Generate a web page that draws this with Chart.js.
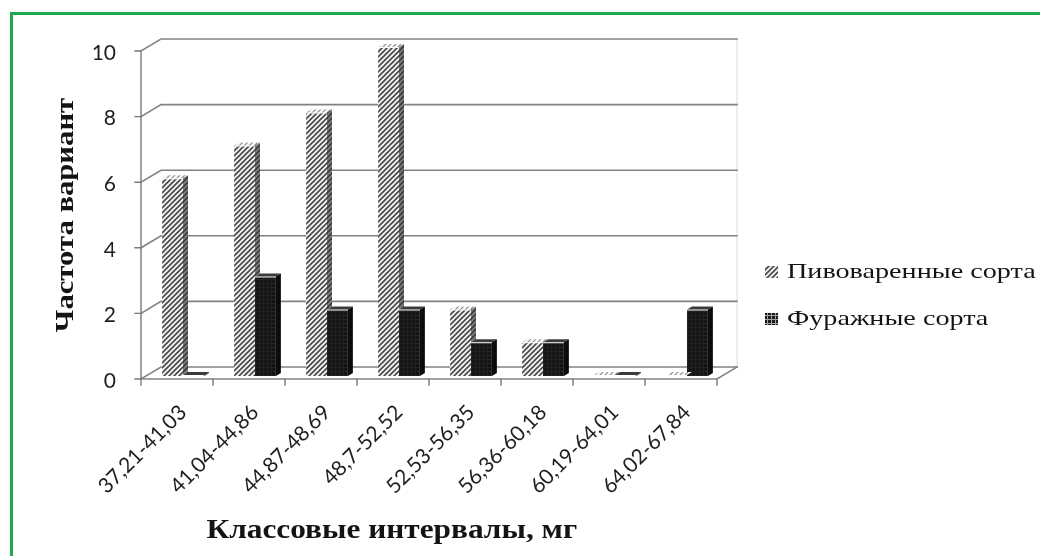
<!DOCTYPE html>
<html lang="ru">
<head>
<meta charset="utf-8">
<title>Частота вариант по классовым интервалам</title>
<script src="https://cdn.jsdelivr.net/npm/chart.js@4.4.1/dist/chart.umd.min.js"></script>
<style>
  html, body { margin: 0; padding: 0; background: #ffffff; overflow: hidden; }
  #wrap { position: relative; width: 1040px; height: 556px; }
  #frame { position: absolute; left: 10px; top: 12px; width: 1100px; height: 600px;
           border-left: 3px solid #20a84e; border-top: 3px solid #20a84e; }
  #c { position: absolute; left: 0; top: 0; }
</style>
</head>
<body>
<div id="wrap">
  <div id="frame"></div>
  <canvas id="c" width="1040" height="556"></canvas>
</div>
<script>
// Class intervals (mg) and counts per interval for each group of varieties
const categories = [
  '37,21-41,03', '41,04-44,86', '44,87-48,69', '48,7-52,52',
  '52,53-56,35', '56,36-60,18', '60,19-64,01', '64,02-67,84'
];
const brewingCounts = [6, 7, 8, 10, 2, 1, 0, 0];
const feedCounts = [0, 3, 2, 2, 1, 1, 0, 2];
const seriesNames = ['Пивоваренные сорта', 'Фуражные сорта'];
const yTickValues = [0, 2, 4, 6, 8, 10];
const xAxisTitle = 'Классовые интервалы, мг';
const yAxisTitle = 'Частота вариант';

// --- pseudo-3D geometry (pixels) ---
const WALL = { dx: 20, dy: -12 };     // front plane -> back wall
const BAR_PLANE = { dx: 6, dy: -3 };  // front plane -> bar front faces
const BAR_DEPTH = { dx: 5, dy: -3 };  // bar front face -> bar back

const canvas = document.getElementById('c');
const ctx = canvas.getContext('2d');

function tile(size, paint) {
  const t = document.createElement('canvas');
  t.width = t.height = size;
  paint(t.getContext('2d'), size);
  return ctx.createPattern(t, 'repeat');
}
function diagonal(bg, fg, width) {
  return tile(5, (g, s) => {
    g.fillStyle = bg; g.fillRect(0, 0, s, s);
    g.strokeStyle = fg; g.lineWidth = width;
    g.beginPath();
    g.moveTo(-1, s + 1); g.lineTo(s + 1, -1);
    g.moveTo(-1, 1); g.lineTo(1, -1);
    g.moveTo(s - 1, s + 1); g.lineTo(s + 1, s - 1);
    g.stroke();
  });
}
function grid(bg, fg) {
  return tile(4, (g, s) => {
    g.fillStyle = bg; g.fillRect(0, 0, s, s);
    g.fillStyle = fg; g.fillRect(3, 0, 1, s); g.fillRect(0, 3, s, 1);
  });
}

const hatchFront = diagonal('#f4f4f4', '#474747', 1.6);
const hatchSide = diagonal('#7c7c7c', '#333333', 1.5);
const hatchTop = diagonal('#fafafa', '#8a8a8a', 1.2);
const darkFront = grid('#141414', '#222222');
const darkSide = '#0b0b0b';
const darkTop = '#3a3a3a';
const darkLegend = grid('#1a1a1a', '#a0a0a0');

const faces = [
  { side: hatchSide, top: hatchTop, legend: hatchFront },
  { side: darkSide, top: darkTop, legend: darkLegend }
];

// back wall, side wall, floor and the front value axis
const frame3d = {
  id: 'frame3d',
  beforeDatasetsDraw(chart) {
    const { chartArea: a, scales: { y } } = chart;
    const c = chart.ctx;
    const fx0 = a.left - BAR_PLANE.dx, fx1 = a.right - BAR_PLANE.dx;
    const fy = v => y.getPixelForValue(v) - BAR_PLANE.dy;
    const y0 = fy(y.min);
    c.save();
    c.lineCap = 'square';
    // faint right edge of the back wall
    c.strokeStyle = '#dcdcdc'; c.lineWidth = 1;
    c.beginPath();
    c.moveTo(fx1 + WALL.dx, y0 + WALL.dy);
    c.lineTo(fx1 + WALL.dx, fy(y.max) + WALL.dy);
    c.stroke();
    // gridlines on the back wall with their diagonals on the side wall
    c.strokeStyle = '#828282'; c.lineWidth = 1.6;
    y.ticks.forEach(t => {
      const yy = fy(t.value);
      c.beginPath();
      c.moveTo(fx0, yy);
      c.lineTo(fx0 + WALL.dx, yy + WALL.dy);
      c.lineTo(fx1 + WALL.dx, yy + WALL.dy);
      c.stroke();
    });
    // floor outline
    c.beginPath();
    c.moveTo(fx0, y0); c.lineTo(fx1, y0); c.lineTo(fx1 + WALL.dx, y0 + WALL.dy);
    c.stroke();
    // front value axis and its tick marks
    c.strokeStyle = '#7a7a7a'; c.lineWidth = 1.4;
    c.beginPath();
    c.moveTo(fx0, fy(y.max)); c.lineTo(fx0, y0 + 5);
    y.ticks.forEach(t => { const yy = fy(t.value); c.moveTo(fx0 - 6, yy); c.lineTo(fx0, yy); });
    // category boundary ticks under the floor edge
    const n = chart.data.labels.length;
    for (let i = 0; i <= n; i++) {
      const bx = fx0 + (fx1 - fx0) * i / n;
      c.moveTo(bx, y0); c.lineTo(bx, y0 + 6);
    }
    c.stroke();
    c.restore();
  }
};

// right side and top faces of every bar, left bar of a group first;
// a side face stops where the neighbouring bar's front face begins
const bars3d = {
  id: 'bars3d',
  afterDatasetsDraw(chart) {
    const c = chart.ctx;
    const metas = chart.data.datasets.map((d, i) => chart.getDatasetMeta(i));
    const box = el => {
      const p = el.getProps(['x', 'y', 'base', 'width'], true);
      return { l: p.x - p.width / 2, r: p.x + p.width / 2,
               top: Math.min(p.y, p.base) - 1, bot: Math.max(p.y, p.base) };
    };
    c.save();
    chart.data.labels.forEach((_, k) => {
      metas.forEach((meta, i) => {
        const b = box(meta.data[k]);
        const f = faces[i];
        const next = metas[i + 1];
        const sideBot = next ? Math.max(b.top, Math.min(b.bot, box(next.data[k]).top)) : b.bot;
        c.fillStyle = f.top;
        c.beginPath();
        c.moveTo(b.l, b.top); c.lineTo(b.r, b.top);
        c.lineTo(b.r + BAR_DEPTH.dx, b.top + BAR_DEPTH.dy);
        c.lineTo(b.l + BAR_DEPTH.dx, b.top + BAR_DEPTH.dy);
        c.closePath(); c.fill();
        c.fillStyle = f.side;
        c.beginPath();
        c.moveTo(b.r, b.top); c.lineTo(b.r + BAR_DEPTH.dx, b.top + BAR_DEPTH.dy);
        c.lineTo(b.r + BAR_DEPTH.dx, sideBot + BAR_DEPTH.dy); c.lineTo(b.r, sideBot);
        c.closePath(); c.fill();
      });
    });
    c.restore();
  }
};

// text drawn with a slight horizontal widening, like the serif captions of the figure
function wideText(c, text, x, y, font, sx, rot) {
  c.save();
  c.translate(x, y);
  if (rot) c.rotate(rot);
  c.scale(sx, 1);
  c.font = font;
  c.fillText(text, 0, 0);
  c.restore();
}

// axis titles and legend
const captions = {
  id: 'captions',
  afterDraw(chart) {
    const c = chart.ctx, a = chart.chartArea;
    c.save();
    c.fillStyle = '#141414';
    c.textAlign = 'center';
    c.textBaseline = 'alphabetic';
    wideText(c, xAxisTitle, a.left + (a.right - a.left) * 0.425, a.bottom + 162,
             'bold 27px "Liberation Serif"', 1.16, 0);
    c.textBaseline = 'middle';
    wideText(c, yAxisTitle, 66, (a.top + a.bottom) / 2 + 3,
             'bold 26px "Liberation Serif"', 1.18, -Math.PI / 2);
    // legend
    c.textAlign = 'left';
    c.textBaseline = 'alphabetic';
    const lx = a.right + 42;
    chart.data.datasets.forEach((ds, i) => {
      const by = (a.top + a.bottom) / 2 + 66 + i * 47;
      c.fillStyle = faces[i].legend;
      c.fillRect(lx, by - 12, 13, 12);
      c.fillStyle = '#141414';
      wideText(c, ds.label, lx + 22, by, '22px "Liberation Serif"', 1.28, 0);
    });
    c.restore();
  }
};

const tickFont = { family: 'Lato', size: 21 };

new Chart(ctx, {
  type: 'bar',
  data: {
    labels: categories,
    datasets: [
      { label: seriesNames[0], data: brewingCounts, backgroundColor: hatchFront },
      { label: seriesNames[1], data: feedCounts, backgroundColor: darkFront }
    ]
  },
  options: {
    responsive: false,
    animation: false,
    devicePixelRatio: 1,
    layout: { padding: { top: 48, right: 317, bottom: 0, left: 0 } },
    datasets: { bar: { barPercentage: 1, categoryPercentage: 0.58, borderWidth: 0 } },
    plugins: { legend: { display: false }, tooltip: { enabled: false } },
    scales: {
      x: {
        grid: { display: false, drawTicks: false },
        border: { display: false },
        ticks: { autoSkip: false, minRotation: 45, maxRotation: 45, padding: 24,
                 color: '#1e1e1e', font: tickFont },
        afterFit(s) { s.height = 180; }
      },
      y: {
        min: yTickValues[0],
        max: yTickValues[yTickValues.length - 1],
        grid: { display: false, drawTicks: false },
        border: { display: false },
        ticks: { stepSize: yTickValues[1] - yTickValues[0], padding: 31, labelOffset: 5,
                 color: '#1e1e1e', font: tickFont },
        afterFit(s) { s.width = 147; }
      }
    }
  },
  plugins: [frame3d, bars3d, captions]
});
</script>
</body>
</html>
